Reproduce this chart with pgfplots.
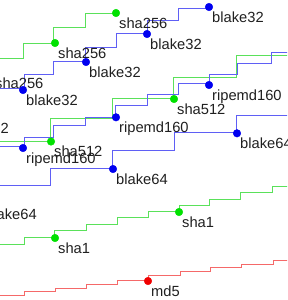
\documentclass[border=0pt]{standalone}
\usepackage{fontspec}
\setmainfont{Liberation Sans}
\usepackage{pgfplots}
\pgfplotsset{compat=1.18}
\definecolor{gline}{RGB}{90,225,90}
\definecolor{bline}{RGB}{95,95,245}
\definecolor{rline}{RGB}{245,105,105}
\definecolor{gmark}{RGB}{0,225,0}
\definecolor{bmark}{RGB}{0,0,240}
\definecolor{rmark}{RGB}{240,0,0}
\tikzset{lbl/.style={anchor=base west, inner sep=0pt, font=\fontsize{14.7}{16}\selectfont, text=black!88}}
\begin{document}
\begin{tikzpicture}
\begin{axis}[
  scale only axis, width=287pt, height=300pt,
  xmin=0, xmax=287, ymin=0, ymax=300, y dir=reverse,
  hide axis, clip=true,
]
% sha256
\addplot[const plot, color=gline, line width=0.6pt] coordinates {(-40,73) (-7,58) (23,43) (53,27) (85,13) (116,13)};
\addplot[only marks, mark=*, mark size=3.8pt, color=gmark] coordinates {(-7,73) (55,43) (116,13)};
% blake32
\addplot[const plot, color=bline, line width=0.6pt] coordinates {(-60,116) (-38,102) (-8,88.5) (24,74) (53,61) (85,47.5) (116,33.5) (147,20) (178,8) (209,8)};
\addplot[only marks, mark=*, mark size=3.8pt, color=bmark] coordinates {(-39,118) (23,90) (86,62) (147,34) (209,7)};
% sha512
\addplot[const plot, color=gline, line width=0.6pt] coordinates {(-20,163) (-12,141.5) (50,118.5) (112,98) (173,77) (236,55) (295,55)};
\addplot[only marks, mark=*, mark size=3.8pt, color=gmark] coordinates {(51,141.5) (174,99)};
% ripemd160
\addplot[const plot, color=bline, line width=0.6pt] coordinates {(-20,156) (-7,146) (24,137.3) (53,125.5) (85,117.3) (115,105.7) (147,94.3) (178,83.5) (209,74) (237,63) (271,52) (295,52)};
\addplot[only marks, mark=*, mark size=3.8pt, color=bmark] coordinates {(23,148) (116,117.3) (209,85)};
% blake64
\addplot[const plot, color=bline, line width=0.6pt] coordinates {(-20,203) (-12,185) (50,168) (112,150) (174,132.5) (236,115) (295,115)};
\addplot[only marks, mark=*, mark size=3.8pt, color=bmark] coordinates {(-11,204) (113,169) (237,133.3)};
% sha1
\addplot[const plot, color=gline, line width=0.6pt] coordinates {(-20,251) (-7,244.3) (24,237.5) (54,230.7) (86,224.3) (117,217.5) (148,211.7) (179,205) (209,199) (240,192.5) (272,186) (295,186)};
\addplot[only marks, mark=*, mark size=3.8pt, color=gmark] coordinates {(55,238) (179,212)};
% md5
\addplot[const plot, color=rline, line width=0.6pt] coordinates {(-20,299) (-7,295.7) (24,291.7) (55,288.3) (86,284) (117,280.3) (148,275.7) (180,271.7) (210,267.3) (241,264) (273,260.7) (295,260.7)};
\addplot[only marks, mark=*, mark size=3.8pt, color=rmark] coordinates {(148,281)};
% labels
\node[lbl] at (axis cs:-5,88.3) {sha256};
\node[lbl] at (axis cs:58,58.3) {sha256};
\node[lbl] at (axis cs:119,28.3) {sha256};
\node[lbl] at (axis cs:-43,133.3) {blake32};
\node[lbl] at (axis cs:26,105.3) {blake32};
\node[lbl] at (axis cs:89,77.3) {blake32};
\node[lbl] at (axis cs:150,49.3) {blake32};
\node[lbl] at (axis cs:212,22.3) {blake32};
\node[lbl] at (axis cs:54,156.8) {sha512};
\node[lbl] at (axis cs:177,114.3) {sha512};
\node[lbl] at (axis cs:26,163.3) {ripemd160};
\node[lbl] at (axis cs:119,132.6) {ripemd160};
\node[lbl] at (axis cs:212,100.3) {ripemd160};
\node[lbl] at (axis cs:-15,219.3) {blake64};
\node[lbl] at (axis cs:116,184.3) {blake64};
\node[lbl] at (axis cs:240,148.6) {blake64};
\node[lbl] at (axis cs:58,253.3) {sha1};
\node[lbl] at (axis cs:182,227.3) {sha1};
\node[lbl] at (axis cs:151,296.3) {md5};
\end{axis}
\pgfresetboundingbox
\path[use as bounding box] (current axis.south west) rectangle (current axis.north east);
\end{tikzpicture}
\end{document}
